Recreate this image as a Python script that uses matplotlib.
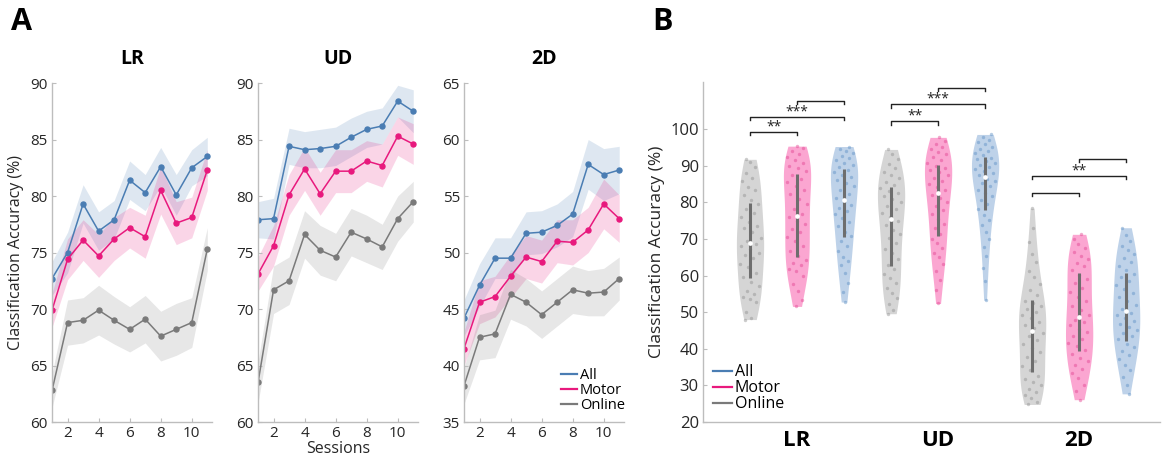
import numpy as np
import matplotlib
matplotlib.use('Agg')
import matplotlib.pyplot as plt
from matplotlib.lines import Line2D

plt.rcParams['font.family'] = ['Open Sans', 'DejaVu Sans']
plt.rcParams['font.size'] = 10

# ---- Panel A data: mean accuracy per session (with SEM) ----
sessions = np.arange(1, 12)

lr_all = [72.7, 75.0, 79.3, 76.9, 77.9, 81.4, 80.3, 82.6, 80.1, 82.5, 83.5]
lr_motor = [69.9, 74.4, 76.1, 74.7, 76.2, 77.2, 76.4, 80.5, 77.6, 78.1, 82.3]
lr_online = [62.8, 68.8, 69.0, 69.9, 69.0, 68.2, 69.1, 67.6, 68.2, 68.8, 75.3]
lr_all_sem = [1.5, 1.8, 1.7, 1.7, 1.7, 1.7, 1.6, 1.7, 1.8, 1.6, 1.7]
lr_motor_sem = [1.5, 1.8, 1.8, 1.9, 1.9, 1.8, 1.9, 2.1, 1.9, 1.8, 1.8]
lr_online_sem = [1.5, 2.0, 2.0, 2.2, 2.1, 2.0, 2.1, 2.2, 2.3, 2.2, 1.9]

ud_all = [77.9, 78.0, 84.4, 84.1, 84.2, 84.4, 85.2, 85.9, 86.2, 88.4, 87.5]
ud_motor = [73.1, 75.6, 80.1, 82.4, 80.2, 82.2, 82.2, 83.1, 82.7, 85.3, 84.6]
ud_online = [63.5, 71.7, 72.5, 76.6, 75.2, 74.6, 76.8, 76.2, 75.5, 78.0, 79.5]
ud_all_sem = [1.6, 1.8, 1.6, 1.6, 1.7, 1.7, 1.7, 1.6, 1.6, 1.4, 1.9]
ud_motor_sem = [1.5, 1.8, 1.8, 1.9, 1.9, 1.9, 1.9, 1.8, 1.9, 1.7, 1.8]
ud_online_sem = [1.8, 2.1, 2.1, 2.1, 2.2, 2.1, 2.1, 2.1, 2.0, 2.0, 1.8]

d2_all = [44.2, 47.1, 49.5, 49.5, 51.7, 51.8, 52.4, 53.4, 57.8, 56.9, 57.3]
d2_motor = [41.5, 45.6, 46.1, 47.9, 49.6, 49.2, 51.0, 50.9, 52.0, 54.3, 53.0]
d2_online = [38.2, 42.5, 42.8, 46.3, 45.6, 44.5, 45.6, 46.7, 46.4, 46.5, 47.7]
d2_all_sem = [1.6, 1.9, 1.8, 1.8, 1.9, 1.9, 1.9, 2.0, 2.2, 2.3, 2.1]
d2_motor_sem = [1.5, 1.9, 1.8, 1.9, 1.9, 1.9, 1.9, 2.0, 2.0, 2.2, 2.1]
d2_online_sem = [1.6, 2.0, 2.1, 2.2, 2.1, 2.1, 2.1, 2.1, 2.0, 2.1, 1.9]

# ---- Panel B data: per-subject accuracies ----
lr_online_acc = [48.0, 48.5, 50.2, 52.8, 53.5, 54.1, 55.0, 55.8, 57.2, 58.4,
                 59.6, 60.8, 62.5, 63.1, 64.9, 65.7, 66.3, 67.4, 68.0, 68.6,
                 69.4, 70.2, 71.8, 72.9, 73.6, 74.8, 76.1, 77.0, 78.3, 79.5,
                 80.6, 82.1, 83.4, 84.2, 85.9, 86.7, 88.0, 89.6, 91.0, 91.8]
lr_motor_acc = [51.6, 53.4, 55.9, 57.6, 59.8, 61.2, 61.9, 62.8, 63.5, 64.2,
                65.3, 66.8, 68.0, 69.4, 70.6, 71.9, 72.8, 74.1, 75.0, 75.9,
                76.9, 78.2, 79.6, 81.0, 82.3, 83.5, 84.4, 85.6, 86.5, 87.4,
                88.5, 89.3, 90.1, 90.9, 91.6, 92.4, 93.2, 94.0, 94.8, 95.4]
lr_all_acc = [52.8, 55.4, 57.9, 60.6, 62.9, 64.1, 65.0, 66.7, 68.2, 69.5,
              70.8, 72.0, 73.5, 74.6, 75.8, 76.9, 77.7, 78.6, 79.4, 80.1,
              81.2, 82.3, 83.4, 84.5, 85.4, 86.2, 86.9, 87.6, 88.3, 88.9,
              89.7, 90.3, 90.9, 91.5, 92.1, 92.8, 93.4, 94.1, 94.7, 95.3]
ud_online_acc = [49.6, 50.5, 52.3, 54.0, 55.2, 56.7, 58.1, 59.4, 60.5, 61.8,
                 63.0, 64.6, 66.1, 67.3, 68.9, 70.2, 71.5, 72.6, 73.8, 74.9,
                 76.1, 77.0, 78.2, 79.0, 80.1, 80.9, 81.7, 82.5, 83.2, 83.9,
                 84.8, 85.7, 86.6, 87.5, 88.4, 89.5, 90.6, 91.8, 93.2, 94.5]
ud_motor_acc = [52.4, 56.1, 58.9, 61.4, 63.2, 65.0, 66.3, 67.6, 68.8, 69.9,
                71.3, 72.9, 74.2, 75.6, 76.8, 78.0, 79.1, 80.2, 81.1, 82.0,
                83.4, 84.2, 85.0, 85.9, 86.7, 87.5, 88.2, 88.9, 89.5, 90.1,
                90.9, 91.7, 92.5, 93.2, 93.9, 94.6, 95.3, 96.1, 96.9, 97.8]
ud_all_acc = [53.3, 58.5, 62.0, 65.4, 67.9, 70.1, 72.0, 73.8, 75.3, 76.6,
              78.3, 79.5, 80.6, 81.7, 82.6, 83.5, 84.4, 85.2, 85.9, 86.5,
              87.5, 88.1, 88.7, 89.2, 89.8, 90.3, 90.8, 91.3, 91.8, 92.2,
              92.9, 93.5, 94.1, 94.7, 95.3, 95.9, 96.5, 97.1, 97.8, 98.6]
d2_online_acc = [24.8, 25.6, 26.5, 27.4, 28.2, 29.1, 30.0, 30.9, 31.8, 32.7,
                 34.1, 35.3, 36.6, 37.8, 39.0, 40.2, 41.4, 42.5, 43.4, 44.3,
                 45.6, 46.5, 47.4, 48.3, 49.2, 50.0, 50.8, 51.6, 52.4, 53.1,
                 54.6, 56.0, 57.7, 59.5, 61.4, 63.6, 66.0, 69.1, 73.0, 78.4]
d2_motor_acc = [26.1, 28.4, 30.2, 31.9, 33.3, 34.5, 35.6, 36.7, 37.6, 38.5,
                39.8, 40.8, 41.7, 42.7, 43.6, 44.6, 45.5, 46.4, 47.2, 48.0,
                49.3, 50.5, 51.7, 53.0, 54.2, 55.4, 56.7, 58.0, 59.2, 60.3,
                61.6, 62.6, 63.5, 64.5, 65.4, 66.4, 67.5, 68.7, 70.0, 71.3]
d2_all_acc = [27.7, 30.1, 32.3, 34.1, 35.7, 37.1, 38.3, 39.4, 40.4, 41.2,
              42.6, 43.4, 44.3, 45.1, 46.0, 46.8, 47.7, 48.5, 49.2, 49.9,
              51.0, 52.1, 53.2, 54.3, 55.3, 56.4, 57.5, 58.6, 59.6, 60.5,
              61.5, 62.6, 63.7, 64.8, 65.9, 67.0, 68.2, 69.5, 71.0, 73.1]

# significance brackets: (left group, right group, height, stars)
brackets = [(1, 2, 99.3, '**'), (1, 3, 103.4, '***'), (2, 3, 107.8, ''),
            (4, 5, 102.2, '**'), (4, 6, 106.8, '***'), (5, 6, 111.4, ''),
            (7, 8, 82.6, ''), (7, 9, 87.2, '**'), (8, 9, 92.0, '')]

# colours
c_all, c_motor, c_online = '#4a7db3', '#e8197d', '#7a7a7a'
fill_all, fill_motor, fill_online = '#bed2e9', '#fba6d1', '#d5d5d5'
dot_all, dot_motor, dot_online = '#5b8fc4', '#e2428f', '#8f8f8f'
axis_grey = '#bdbdbd'
text_col = '#262626'

fig = plt.figure(figsize=(11.67, 4.55), dpi=100)


def style_axes(ax):
    for s in ['top', 'right']:
        ax.spines[s].set_visible(False)
    for s in ['left', 'bottom']:
        ax.spines[s].set_color(axis_grey)
        ax.spines[s].set_linewidth(1.0)
    ax.tick_params(direction='in', length=3, color=axis_grey, labelcolor=text_col,
                   labelsize=11, pad=3)


names = ['All', 'Motor', 'Online']
line_cols = [c_all, c_motor, c_online]
legend_lines = [Line2D([], [], color=c, lw=1.6) for c in line_cols]

# ======== Panel A ========
panels = [
    ('LR', 0.0446, (60, 90), [lr_all, lr_motor, lr_online], [lr_all_sem, lr_motor_sem, lr_online_sem]),
    ('UD', 0.2211, (60, 90), [ud_all, ud_motor, ud_online], [ud_all_sem, ud_motor_sem, ud_online_sem]),
    ('2D', 0.3976, (35, 65), [d2_all, d2_motor, d2_online], [d2_all_sem, d2_motor_sem, d2_online_sem]),
]

for k, (title, left, ylim, series, sems) in enumerate(panels):
    ax = fig.add_axes([left, 0.0725, 0.137, 0.745])
    for vals, sem, col in zip(series, sems, line_cols):
        vals = np.array(vals)
        sem = np.array(sem)
        ax.fill_between(sessions, vals - sem, vals + sem, color=col, alpha=0.18, lw=0)
        ax.plot(sessions, vals, '-o', color=col, lw=1.1, ms=3.6)
    ax.set_xlim(1, 11.3)
    ax.set_ylim(*ylim)
    ax.set_xticks([2, 4, 6, 8, 10])
    ax.set_yticks(np.arange(ylim[0], ylim[1] + 1, 5))
    ax.set_title(title, fontsize=14, fontweight='bold', pad=14)
    style_axes(ax)
    if k == 0:
        ax.set_ylabel('Classification Accuracy (%)', fontsize=11.5, color=text_col, labelpad=5)
    if k == 1:
        ax.set_xlabel('Sessions', fontsize=11.5, color=text_col, labelpad=0)
    if k == 2:
        ax.legend(legend_lines, names, loc='lower right', frameon=False, fontsize=10.5,
                  handlelength=1.1, handletextpad=0.2, labelspacing=0.0,
                  borderaxespad=0.2, bbox_to_anchor=(1.06, 0.0))

# ======== Panel B: violins ========
axb = fig.add_axes([0.6024, 0.0725, 0.3916, 0.747])
groups = [lr_online_acc, lr_motor_acc, lr_all_acc,
          ud_online_acc, ud_motor_acc, ud_all_acc,
          d2_online_acc, d2_motor_acc, d2_all_acc]
fills = [fill_online, fill_motor, fill_all] * 3
dots = [dot_online, dot_motor, dot_all] * 3

half_width = 0.29
bw = 6.0
for i, (acc, fc, dc) in enumerate(zip(groups, fills, dots)):
    pos = i + 1
    acc = np.array(acc)
    grid = np.linspace(acc.min(), acc.max(), 200)
    dens = np.exp(-0.5 * ((grid[:, None] - acc[None, :]) / bw) ** 2).sum(axis=1)
    dens = dens / dens.max() * half_width
    axb.fill_betweenx(grid, pos - dens, pos + dens, color=fc, lw=0, zorder=1)

    # jittered points inside the violin (deterministic spread)
    local_w = np.interp(acc, grid, dens)
    frac = (np.arange(len(acc)) * 0.6180339 + 0.37 * i) % 1.0
    xs = pos + (frac * 2 - 1) * local_w * 0.85
    axb.scatter(xs, acc, s=6, color=dc, alpha=0.45, lw=0, zorder=2)

    q1, med, q3 = np.percentile(acc, [25, 50, 75])
    axb.plot([pos, pos], [q1, q3], color='#6e6e6e', lw=2.2, solid_capstyle='butt', zorder=3)
    axb.plot(pos, med, 'o', color='white', ms=3.4, mec='none', zorder=4)

for x1, x2, y, stars in brackets:
    axb.plot([x1, x1, x2, x2], [y - 0.9, y, y, y - 0.9], color='#222222', lw=1.0, zorder=5)
    if stars:
        axb.text((x1 + x2) / 2, y - 0.6, stars, ha='center', va='bottom', fontsize=10,
                 color='#222222')

axb.set_xlim(0, 9.72)
axb.set_ylim(20, 112.9)
axb.set_yticks(np.arange(20, 101, 10))
axb.set_xticks([2, 5, 8])
axb.set_xticklabels(['LR', 'UD', '2D'], fontsize=16, fontweight='bold', color='black')
style_axes(axb)
axb.tick_params(axis='x', length=0, pad=6, labelsize=16, labelcolor='black')
axb.tick_params(axis='y', labelsize=12)
axb.set_ylabel('Classification Accuracy (%)', fontsize=12.5, color=text_col, labelpad=4)

axb.legend(legend_lines, names, loc='lower left', frameon=False, fontsize=11.5,
           handlelength=1.2, handletextpad=0.2, labelspacing=0.0, borderaxespad=0.2,
           bbox_to_anchor=(0.0, 0.0))

# panel letters
fig.text(0.009, 0.985, 'A', fontsize=22, fontweight='bold', va='top', ha='left')
fig.text(0.559, 0.985, 'B', fontsize=22, fontweight='bold', va='top', ha='left')

fig.savefig('out.png', dpi=100)
